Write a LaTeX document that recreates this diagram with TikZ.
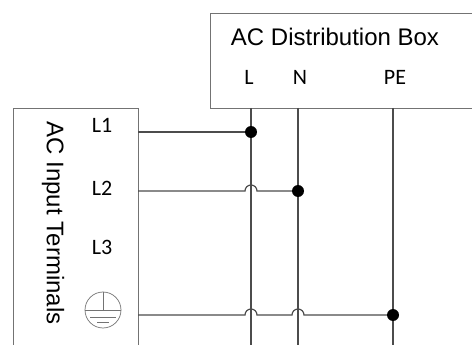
\documentclass[tikz,border=0pt]{standalone}
\usepackage{fontspec}
\setmainfont{Liberation Sans}
\newfontfamily\lblfont{Carlito}
\begin{document}
\begin{tikzpicture}[x=1pt,y=-1pt,
		wire/.style={line width=1.2pt, draw=black!70},
		frame/.style={draw=black!55, line width=0.9pt},
		joint/.style={circle, fill=black, inner sep=0pt, minimum size=12pt},
		title/.style={font=\fontsize{24}{28}\selectfont},
		lbl/.style={font=\lblfont\fontsize{22}{26}\selectfont}]
		\clip (0,0) rectangle (472,345);
		% boxes
		\draw[frame] (210,13) rectangle (490,108);
		\draw[frame] (13,108) rectangle (138,360);
		\node[title] (dbox) at (335,37) {AC Distribution Box};
		\node[title, rotate=-90] (inbox) at (53,223) {AC Input Terminals};
		\node[lbl] (lL) at (249,77) {L};
		\node[lbl] (lN) at (300,77) {N};
		\node[lbl] (lPE) at (395,77) {PE};
		\node[lbl] (lL1) at (102,125) {L1};
		\node[lbl] (lL2) at (102,188) {L2};
		\node[lbl] (lL3) at (102,247) {L3};
		% earth symbol
		\coordinate (pe) at (103,310);
		\draw[frame, line width=0.7pt] (pe) circle (18pt);
		\draw[frame, line width=0.7pt] (pe) -- ++(0,-18) (85,310) -- (121,310)
			(90,317) -- (116,317) (97,322) -- (109,322);
		% wiring
		\coordinate (Lv) at (251,108);
		\coordinate (Nv) at (298,108);
		\coordinate (PEv) at (393,108);
		\coordinate (t1) at (138,132);
		\coordinate (t2) at (138,191);
		\coordinate (t4) at (138,315);
		\draw[wire] (Lv) -- (251,350);
		\draw[wire] (Nv) -- (298,350);
		\draw[wire] (PEv) -- (393,350);
		\node[joint] (jL) at (Lv |- t1) {};
		\node[joint] (jN) at (Nv |- t2) {};
		\node[joint] (jPE) at (PEv |- t4) {};
		\draw[wire] (t1) -- (jL);
		\draw[wire] (t2) -- ([xshift=-6pt]Lv |- t2) arc (180:0:6pt) -- (jN);
		\draw[wire] (t4) -- ([xshift=-6pt]Lv |- t4) arc (180:0:6pt)
			-- ([xshift=-6pt]Nv |- t4) arc (180:0:6pt) -- (jPE);
\end{tikzpicture}
\end{document}
